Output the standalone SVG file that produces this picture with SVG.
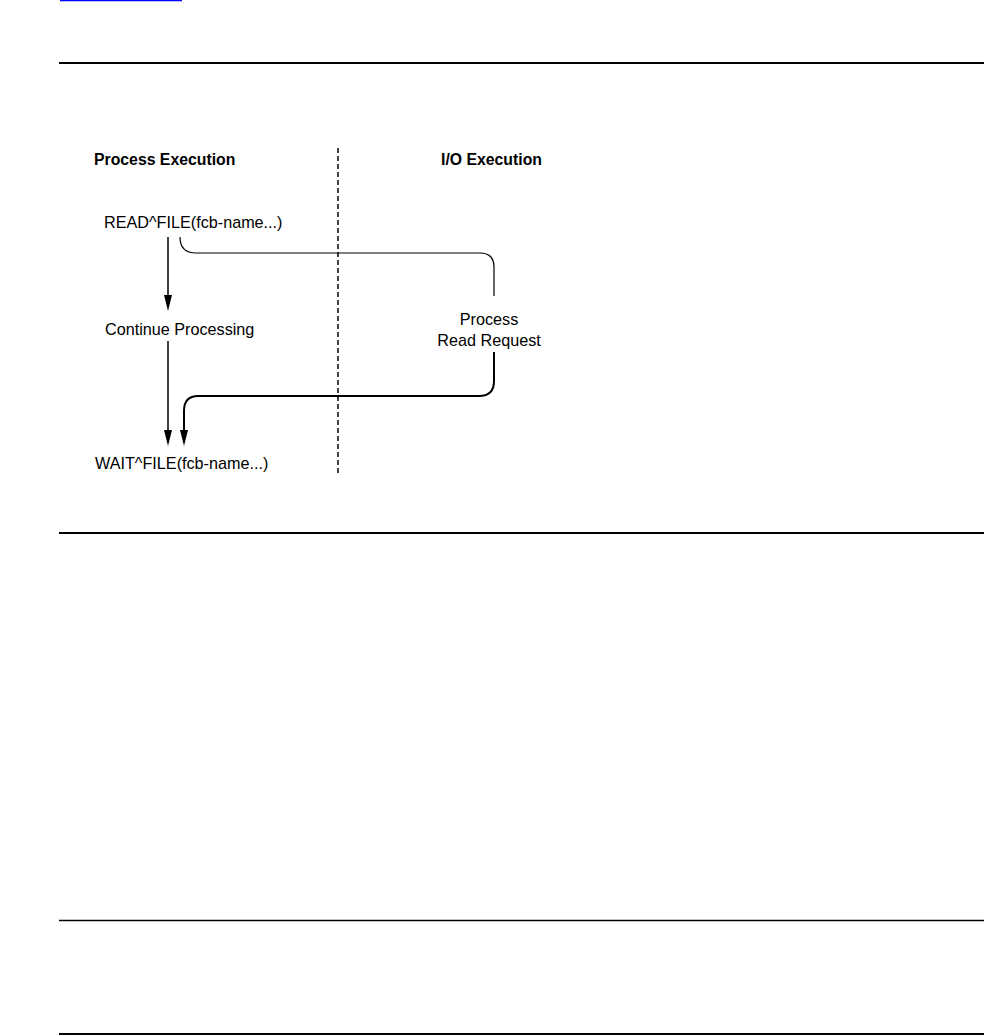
<svg xmlns="http://www.w3.org/2000/svg" width="984" height="1035" viewBox="0 0 984 1035">
<style>
text{font-family:"Liberation Sans",Arial,sans-serif;fill:#000}
.t{font-size:16.2px}
.h{font-size:15.8px;font-weight:bold}
.rule{stroke:#000;fill:none}
.c{stroke:#000;fill:none}
.ah{fill:#000}
</style>
<rect width="984" height="1035" fill="#fff"/>
<line x1="60" y1="0.5" x2="182" y2="0.5" stroke="#0000ff" stroke-width="1.5"/>
<g id="rules">
<line class="rule" x1="59" y1="63" x2="984" y2="63" stroke-width="2"/>
<line class="rule" x1="59" y1="533" x2="984" y2="533" stroke-width="2"/>
<line class="rule" x1="59" y1="920.5" x2="984" y2="920.5" stroke-width="1.3"/>
<line class="rule" x1="59" y1="1034" x2="984" y2="1034" stroke-width="2"/>
</g>
<g id="divider">
<line x1="338" y1="148" x2="338" y2="473" stroke="#000" stroke-width="1.5" stroke-dasharray="5,3"/>
</g>
<g id="header-process"><text class="h" x="94" y="165">Process Execution</text></g>
<g id="header-io"><text class="h" x="441" y="165">I/O Execution</text></g>
<g id="read-file"><text class="t" x="104" y="228">READ^FILE(fcb-name...)</text></g>
<g id="continue"><text class="t" x="105" y="335">Continue Processing</text></g>
<g id="wait-file"><text class="t" x="95" y="469">WAIT^FILE(fcb-name...)</text></g>
<g id="process-read"><text class="t" x="489" y="325" text-anchor="middle">Process</text><text class="t" x="489" y="346" text-anchor="middle">Read Request</text></g>
<g id="connectors">
<path class="c" d="M168,237 V295" stroke-width="1.5"/>
<path class="ah" d="M164,295 L172,295 L168,311 Z"/>
<path class="c" d="M168,341 V430" stroke-width="1.5"/>
<path class="ah" d="M164,430 L172,430 L168,446 Z"/>
<path class="c" d="M180,237 Q180,253 196,253 H480 Q494,253 494,267 V296" stroke-width="1.2"/>
<path class="c" d="M494,352 V381 Q494,396 479,396 H198 Q184,396 184,411 V430" stroke-width="2"/>
<path class="ah" d="M180,430 L188,430 L184,446 Z"/>
</g>
</svg>
